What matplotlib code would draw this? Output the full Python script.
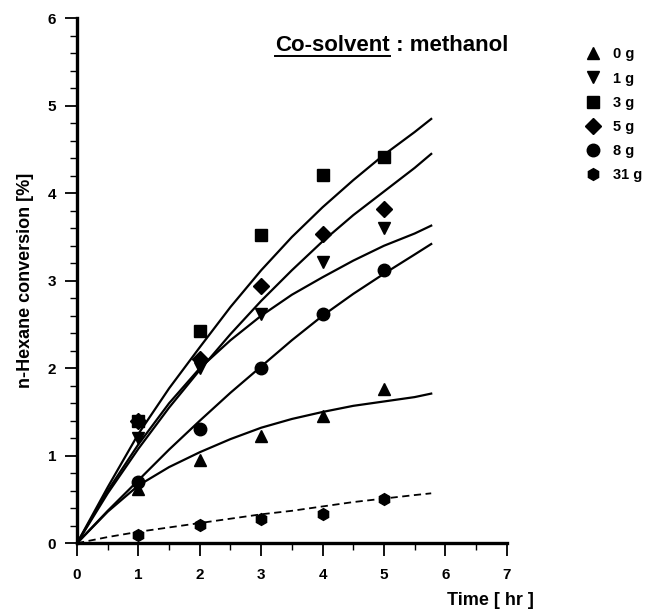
import numpy as np
import matplotlib.pyplot as plt
from matplotlib.ticker import MultipleLocator

plt.rcParams['font.family'] = ['Liberation Sans', 'DejaVu Sans']
plt.rcParams['font.weight'] = 'bold'

# measured points
t_pts = [1, 2, 3, 4, 5]
pts_0g = [0.62, 0.95, 1.22, 1.45, 1.76]
pts_1g = [1.20, 2.00, 2.62, 3.22, 3.60]
pts_3g = [1.40, 2.42, 3.52, 4.21, 4.42]
pts_5g = [1.40, 2.11, 2.94, 3.53, 3.82]
pts_8g = [0.70, 1.30, 2.00, 2.62, 3.12]
pts_31g = [0.09, 0.21, 0.28, 0.33, 0.51]

# fitted curves
t_fit = [0, 0.5, 1, 1.5, 2, 2.5, 3, 3.5, 4, 4.5, 5, 5.5, 5.77]
fit_0g = [0, 0.36, 0.66, 0.87, 1.04, 1.19, 1.32, 1.42, 1.50, 1.57, 1.62, 1.67, 1.71]
fit_1g = [0, 0.60, 1.13, 1.60, 2.00, 2.32, 2.60, 2.84, 3.04, 3.23, 3.40, 3.54, 3.63]
fit_3g = [0, 0.64, 1.25, 1.77, 2.24, 2.70, 3.12, 3.50, 3.84, 4.15, 4.44, 4.70, 4.85]
fit_5g = [0, 0.57, 1.08, 1.55, 1.98, 2.39, 2.77, 3.12, 3.45, 3.75, 4.02, 4.29, 4.45]
fit_8g = [0, 0.37, 0.72, 1.07, 1.40, 1.72, 2.02, 2.32, 2.60, 2.85, 3.08, 3.30, 3.42]
fit_31g = [0, 0.07, 0.13, 0.18, 0.23, 0.28, 0.33, 0.37, 0.42, 0.47, 0.51, 0.55, 0.57]

labels = ['0 g', '1 g', '3 g', '5 g', '8 g', '31 g']
markers = ['^', 'v', 's', 'D', 'o', 'h']
msizes = [9, 9, 8.5, 8, 9, 8.5]
points = [pts_0g, pts_1g, pts_3g, pts_5g, pts_8g, pts_31g]
fits = [fit_0g, fit_1g, fit_3g, fit_5g, fit_8g, fit_31g]

fig = plt.figure(figsize=(6.55, 6.11), dpi=100)
ax = fig.add_axes([0.1176, 0.111, 0.656, 0.859])

for f, lab in zip(fits, labels):
    ls = (0, (4, 2.5)) if lab == '31 g' else '-'
    lw = 1.3 if lab == '31 g' else 1.6
    ax.plot(t_fit, f, color='black', linestyle=ls, linewidth=lw,
            solid_joinstyle='round')

handles = []
for p, m, ms in zip(points, markers, msizes):
    h, = ax.plot(t_pts, p, linestyle='none', marker=m, markersize=ms,
                 color='black', clip_on=False, zorder=3)
    handles.append(h)

ax.set_xlim(0, 7)
ax.set_ylim(0, 6)
ax.xaxis.set_major_locator(MultipleLocator(1))
ax.xaxis.set_minor_locator(MultipleLocator(0.5))
ax.yaxis.set_major_locator(MultipleLocator(1))
ax.yaxis.set_minor_locator(MultipleLocator(0.2))
ax.tick_params(which='major', direction='out', length=9, width=1.3,
               labelsize=11, pad=6)
ax.tick_params(axis='x', which='major', pad=9)
ax.tick_params(which='minor', direction='out', length=5, width=1.0)
for lbl in ax.get_xticklabels() + ax.get_yticklabels():
    lbl.set_fontweight('bold')

for s in ['top', 'right']:
    ax.spines[s].set_visible(False)
for s in ['left', 'bottom']:
    ax.spines[s].set_linewidth(2.4)

ax.set_ylabel('n-Hexane conversion [%]', fontsize=13, fontweight='bold',
              labelpad=10)
fig.text(0.748, 0.004, 'Time [ hr ]', fontsize=13, fontweight='bold',
         ha='center', va='bottom')

# title with underlined "Co-solvent"
t1 = fig.text(0.42, 0.917, 'Co-solvent', fontsize=16, ha='left',
              va='baseline')
fig.canvas.draw()
bb = t1.get_window_extent()
fig.text(bb.x1 / fig.bbox.width, 0.917, ' : methanol', fontsize=16,
         ha='left', va='baseline')
fig.add_artist(plt.Line2D([bb.x0 / fig.bbox.width, bb.x1 / fig.bbox.width],
                          [0.908, 0.908], color='black', linewidth=1.4))

leg = ax.legend(handles, labels, loc='upper left',
                bbox_to_anchor=(0.874, 0.944), bbox_transform=fig.transFigure,
                frameon=False, fontsize=10.5, handlelength=1.0,
                handletextpad=0.9, labelspacing=0.7, numpoints=1)
for txt in leg.get_texts():
    txt.set_fontweight('bold')

fig.savefig('out.png', dpi=100)
